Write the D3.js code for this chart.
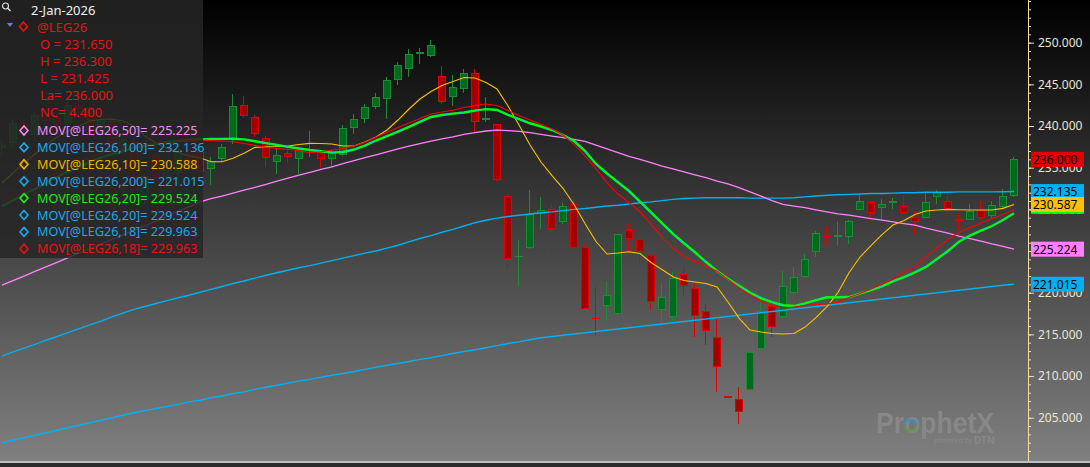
<!DOCTYPE html>
<html>
<head>
<meta charset="utf-8">
<script src="https://cdn.jsdelivr.net/npm/d3@7"></script>
<style>
  body { margin: 0; background: #000; overflow: hidden; }
  svg { display: block; }
  text { font-family: "Noto Sans", "DejaVu Sans", sans-serif; }
</style>
</head>
<body>
<svg id="chart" width="1090" height="467"></svg>
<script>
// daily bars of @LEG26, oldest first
let opens = [237.4,238.0,240.3,239.0,241.3,241.0,240.4,242.3,242.2,239.2,
  240.6,237.6,238.0,231.2,236.5,234.0,234.4,236.6,236.8,234.9,
  236.1,238.5,242.5,241.05,238.5,235.8,236.7,236.1,237.85,236.8,
  236.1,236.6,239.85,240.9,242.4,243.3,245.6,246.9,248.75,248.5,
  246.0,243.6,244.5,246.3,240.8,240.2,231.6,224.3,225.45,229.5,
  230.0,228.6,230.6,225.45,216.9,218.5,217.5,227.5,226.4,224.5,
  218.0,217.1,222.2,220.5,217.8,214.65,207.5,207.2,208.4,213.3,
  218.3,217.1,220.0,222.0,224.9,226.9,226.8,226.7,230.0,230.85,
  230.25,230.8,230.4,229.05,229.05,231.6,231.0,228.75,228.8,229.85,
  229.3,230.3,231.65];
let highs = [238.3,240.8,240.9,241.8,241.9,241.6,243.0,243.1,242.7,241.6,
  241.0,238.9,238.6,234.4,237.0,235.5,237.3,237.2,237.4,236.3,
  237.9,243.8,243.6,241.3,238.8,237.3,237.45,237.5,239.45,237.1,
  237.1,240.1,241.4,242.6,244.0,245.85,247.7,249.3,249.35,250.3,
  247.2,246.1,246.8,246.9,243.5,240.3,231.8,226.3,232.3,231.5,
  230.6,230.8,231.3,225.85,220.65,221.3,227.1,228.2,227.3,224.7,
  221.0,222.5,223.05,221.1,218.7,217.05,207.5,208.65,214.1,219.2,
  218.9,222.6,223.05,224.7,227.4,228.0,228.5,228.7,231.8,231.0,
  231.2,231.4,231.7,229.7,232.0,232.3,231.7,229.6,230.6,231.0,
  231.0,232.4,236.3];
let lows = [236.4,237.5,239.2,238.4,240.2,239.0,240.0,241.4,238.8,238.6,
  237.0,237.0,232.0,230.7,233.6,233.2,233.9,235.0,234.0,232.9,
  235.7,237.9,241.0,238.65,235.1,234.2,235.6,234.2,236.3,235.05,
  235.1,236.4,239.0,240.4,242.0,240.9,244.9,245.9,247.4,248.3,
  242.6,242.4,244.0,239.3,240.5,233.4,222.8,220.8,225.3,227.7,
  224.8,228.3,224.8,218.0,214.9,216.6,217.1,224.9,223.6,218.0,
  215.2,216.6,219.7,214.65,213.7,208.1,207.45,204.3,208.2,213.2,
  214.7,217.0,219.7,221.85,224.25,225.7,225.6,225.8,229.9,229.1,
  228.8,230.0,229.3,226.9,229.0,230.7,229.5,227.5,228.7,228.7,
  229.0,230.1,231.425];
let closes = [237.7,240.3,239.6,241.3,240.7,239.5,242.5,242.1,239.2,240.8,
  237.5,238.4,232.4,233.9,234.0,235.0,236.8,235.5,234.5,235.8,
  237.45,242.4,241.3,239.1,236.25,236.5,236.3,237.1,237.9,236.1,
  236.8,239.7,240.8,242.25,243.45,245.5,247.3,248.6,248.85,249.7,
  243.0,244.65,246.3,240.6,240.95,233.6,224.1,224.3,229.4,229.9,
  227.7,230.4,225.45,218.1,216.85,219.7,227.0,226.5,225.0,219.0,
  219.45,221.7,220.9,217.3,215.5,211.1,207.45,205.7,212.8,217.7,
  215.9,220.7,221.85,224.0,227.1,226.8,226.9,228.5,230.9,229.6,
  230.6,230.9,229.6,228.5,230.85,232.0,230.1,228.7,229.7,229.05,
  230.5,231.6,236.0];

// moving averages, one value per bar
let ma10 = [233.16,234.36,235.56,236.64,237.72,238.68,239.4,240.0,240.6,240.78,
  240.84,240.6,240.0,238.8,237.96,237.3,236.82,236.4,236.2,235.72,
  235.72,236.12,236.72,237.44,237.52,237.54,237.6,237.78,237.92,237.9,
  237.84,237.6,237.6,238.08,238.68,239.52,240.72,242.04,243.24,244.14,
  244.86,245.34,245.82,245.76,245.22,244.44,242.4,240.12,237.72,235.68,
  234.06,232.53,230.58,228.3,226.14,224.64,224.76,224.92,224.7,223.62,
  222.78,221.92,221.46,221.28,221.1,220.68,218.88,216.96,215.52,215.28,
  215.1,215.04,215.1,215.88,217.02,218.32,220.02,222.4,224.28,225.66,
  226.98,228.12,228.66,229.38,229.8,229.92,230.0,229.96,229.92,229.92,
  229.92,230.12,230.588];
let ma18 = [230.88,231.6,232.32,233.04,233.76,234.42,235.08,235.68,236.22,236.7,
  237.06,237.36,237.6,237.78,237.96,238.08,238.2,238.26,238.32,238.26,
  238.2,238.12,237.9,237.68,237.46,237.3,237.18,237.05,236.8,236.92,
  237.12,237.3,237.6,238.05,238.64,239.25,239.82,240.36,240.9,241.44,
  241.68,241.9,242.22,242.45,242.64,242.47,241.86,241.26,240.72,240.2,
  239.64,238.92,237.8,236.42,234.87,233.22,231.84,230.82,229.74,228.24,
  226.68,225.36,224.34,223.73,223.2,222.58,221.6,220.61,219.66,218.94,
  218.47,218.16,218.28,218.46,218.6,218.64,218.88,219.42,219.9,220.44,
  221.04,221.68,222.48,223.12,224.34,225.4,226.4,227.22,227.81,228.36,
  228.88,229.38,229.963];
let ma20 = [230.4,231.06,231.78,232.44,233.16,233.88,234.54,235.08,235.68,236.2,
  236.6,237.0,237.38,237.62,237.84,238.08,238.2,238.32,238.4,238.44,
  238.46,238.48,238.4,238.17,237.94,237.72,237.5,237.31,237.12,236.97,
  236.81,236.88,237.18,237.64,238.26,238.8,239.34,239.9,240.5,241.08,
  241.32,241.49,241.62,241.85,242.03,241.92,241.35,240.84,240.33,239.94,
  239.52,238.92,238.2,237.0,235.44,234.3,233.25,232.2,230.93,229.65,
  228.36,227.06,225.93,224.85,223.68,222.6,221.67,220.83,220.02,219.36,
  218.86,218.5,218.4,218.72,219.12,219.45,219.45,219.48,219.89,220.32,
  220.76,221.36,221.88,222.45,223.1,224.04,225.0,226.13,226.86,227.46,
  228.0,228.72,229.524];
let ma50 = [220.9,221.45,222.0,222.55,223.1,223.65,224.2,224.75,225.3,225.85,
  226.4,226.95,227.5,228.05,228.6,229.15,229.75,230.3,230.9,231.3,
  231.6,231.95,232.3,232.65,233.0,233.4,233.75,234.1,234.45,234.8,
  235.1,235.5,235.85,236.2,236.55,236.9,237.25,237.6,237.9,238.2,
  238.45,238.7,239.0,239.2,239.4,239.5,239.45,239.35,239.2,239.0,
  238.8,238.6,238.4,238.15,237.7,237.25,236.8,236.35,236.0,235.6,
  235.2,234.85,234.5,234.15,233.8,233.4,233.05,232.6,232.1,231.6,
  231.05,230.6,230.4,230.2,229.95,229.7,229.45,229.3,229.1,228.9,
  228.7,228.5,228.3,228.1,227.75,227.45,227.15,226.8,226.5,226.2,
  225.85,225.55,225.225];
let ma100 = [212.4,212.9,213.35,213.8,214.3,214.75,215.2,215.7,216.15,216.6,
  217.1,217.55,218.0,218.35,218.7,219.05,219.4,219.7,220.05,220.4,
  220.75,221.1,221.4,221.75,222.1,222.4,222.7,223.0,223.25,223.55,
  223.85,224.15,224.45,224.75,225.0,225.35,225.7,226.1,226.5,226.85,
  227.25,227.6,228.0,228.4,228.7,228.95,229.15,229.3,229.45,229.6,
  229.7,229.85,230.0,230.1,230.25,230.4,230.5,230.65,230.8,230.9,
  231.05,231.2,231.3,231.35,231.4,231.4,231.4,231.4,231.35,231.35,
  231.35,231.35,231.4,231.5,231.6,231.7,231.75,231.8,231.85,231.9,
  231.9,231.95,232.0,232.0,232.05,232.05,232.05,232.1,232.1,232.1,
  232.1,232.12,232.135];
let ma200 = [202.0,202.3,202.6,202.9,203.2,203.5,203.8,204.1,204.4,204.7,
  205.0,205.3,205.6,205.85,206.1,206.35,206.6,206.9,207.1,207.4,
  207.6,207.9,208.1,208.4,208.65,208.9,209.15,209.4,209.6,209.85,
  210.1,210.3,210.55,210.8,211.05,211.3,211.5,211.75,212.0,212.2,
  212.45,212.7,212.95,213.15,213.4,213.65,213.9,214.1,214.35,214.6,
  214.75,214.9,215.05,215.2,215.35,215.5,215.65,215.8,215.95,216.1,
  216.25,216.4,216.55,216.7,216.85,217.0,217.15,217.3,217.45,217.6,
  217.75,217.9,218.05,218.2,218.35,218.5,218.65,218.8,218.95,219.1,
  219.25,219.4,219.55,219.7,219.85,220.0,220.15,220.3,220.45,220.6,
  220.75,220.9,221.015];

// legend texts
let dateLabel = "2-Jan-2026";
let symbol = "@LEG26";
let quoteLines = ["O = 231.650", "H = 236.300", "L = 231.425", "La= 236.000", "NC= 4.400"];
let studyNames = ["MOV[@LEG26,50]= 225.225", "MOV[@LEG26,100]= 232.136", "MOV[@LEG26,10]= 230.588",
  "MOV[@LEG26,200]= 221.015", "MOV[@LEG26,20]= 229.524", "MOV[@LEG26,20]= 229.524",
  "MOV[@LEG26,18]= 229.963", "MOV[@LEG26,18]= 229.963"];
let studyColors = ["#f48cf4", "#1aa8ea", "#f2b400", "#1aa8ea", "#1ee81e", "#1aa8ea", "#1aa8ea", "#e41414"];

// last-value tags on the price axis
let tagValues = [236.000, 232.135, 229.524, 230.587, 225.224, 221.015];
let tagColors = ["#e00000", "#00b0f0", "#00ff00", "#ffc000", "#ff80ff", "#00b0f0"];

let svg = d3.select("#chart");
let W = 1090, plotBottom = 461, axisX = 1028;

let x = d3.scaleLinear().domain([0, closes.length - 1]).range([2, 1014]);
let y = d3.scaleLinear().domain([200, 255.12]).range([459.4, 0]);

// background gradient
let defs = svg.append("defs");
let grad = defs.append("linearGradient").attr("id", "bg")
  .attr("x1", 0).attr("y1", 0).attr("x2", 0).attr("y2", 1);
grad.append("stop").attr("offset", "0%").attr("stop-color", "#000");
grad.append("stop").attr("offset", "100%").attr("stop-color", "#808080");

svg.append("rect").attr("width", W).attr("height", plotBottom).attr("fill", "url(#bg)");
svg.append("rect").attr("y", plotBottom).attr("width", W).attr("height", 2).attr("fill", "#bdbdbd");
svg.append("rect").attr("y", plotBottom + 2).attr("width", W).attr("height", 4).attr("fill", "#2a2a2a");

// watermark
let wm = svg.append("g");
wm.append("text")
  .attr("x", 876).attr("y", 433)
  .attr("textLength", 118).attr("lengthAdjust", "spacingAndGlyphs")
  .style("font-family", "'Liberation Sans', Arial, sans-serif")
  .style("font-weight", "bold").style("font-size", "29px")
  .attr("fill", "#888")
  .text("ProphetX");
let ringArc = d3.arc().innerRadius(4).outerRadius(7.5);
wm.append("path").attr("transform", translate(910.5, 425.5))
  .attr("d", ringArc({startAngle: -Math.PI / 2, endAngle: Math.PI / 2})).attr("fill", "#2f8fc8").attr("opacity", 0.6);
wm.append("path").attr("transform", translate(910.5, 425.5))
  .attr("d", ringArc({startAngle: Math.PI / 2, endAngle: Math.PI * 1.5})).attr("fill", "#5c9a45").attr("opacity", 0.6);
wm.append("text").attr("x", 934).attr("y", 443)
  .style("font-size", "7px").attr("fill", "#888").text("powered by");
wm.append("text").attr("x", 974).attr("y", 444)
  .style("font-size", "10px").style("font-weight", "bold").attr("fill", "#888").text("DTN");

// candles
let bars = d3.range(closes.length).map(function(i) {
  return {i: i, o: opens[i], h: highs[i], l: lows[i], c: closes[i]};
});
let candles = svg.append("g").attr("shape-rendering", "crispEdges");
let up = function(d) { return d.c >= d.o; };
candles.selectAll(".wick").data(bars).enter().append("line")
  .attr("x1", function(d) { return Math.round(x(d.i)) - 0.5; })
  .attr("x2", function(d) { return Math.round(x(d.i)) - 0.5; })
  .attr("y1", function(d) { return y(d.h); })
  .attr("y2", function(d) { return y(d.l); })
  .attr("stroke", function(d) { return up(d) ? "#1b8c34" : "#e00000"; })
  .attr("stroke-width", 1);
candles.selectAll(".body").data(bars).enter().append("rect")
  .attr("x", function(d) { return Math.round(x(d.i)) - 3.5; })
  .attr("width", 7)
  .attr("y", function(d) { return y(Math.max(d.o, d.c)); })
  .attr("height", function(d) { return Math.max(0.01, Math.abs(y(d.o) - y(d.c))); })
  .attr("fill", function(d) { return up(d) ? "#006a1f" : "#a30000"; })
  .attr("stroke", function(d) { return up(d) ? "#1b8c34" : "#e00000"; })
  .attr("stroke-width", 1);

// moving average lines
let maLine = d3.line().x(function(d, i) { return x(i); }).y(function(d) { return y(d); });
let lines = svg.append("g").attr("fill", "none");
lines.append("path").attr("d", maLine(ma200)).attr("stroke", "#00b0f0").attr("stroke-width", 1.4);
lines.append("path").attr("d", maLine(ma100)).attr("stroke", "#00b0f0").attr("stroke-width", 1.4);
lines.append("path").attr("d", maLine(ma50)).attr("stroke", "#ff80ff").attr("stroke-width", 1.3);
lines.append("path").attr("d", maLine(ma10)).attr("stroke", "#ffc000").attr("stroke-width", 1.1);
lines.append("path").attr("d", maLine(ma20)).attr("stroke", "#00ff00").attr("stroke-width", 2.4);
lines.append("path").attr("d", maLine(ma20)).attr("stroke", "#00c8f0").attr("stroke-width", 1.3)
  .attr("stroke-dasharray", "3,5");
lines.append("path").attr("d", maLine(ma18)).attr("stroke", "#ff0000").attr("stroke-width", 1.1);

// legend panel
let legend = svg.append("g");
legend.append("rect").attr("width", 203).attr("height", 258).attr("fill", "#262626").attr("opacity", 0.85);
legend.append("circle").attr("cx", 5.5).attr("cy", 6).attr("r", 3)
  .attr("fill", "none").attr("stroke", "#e0e0e0").attr("stroke-width", 1.2);
legend.append("line").attr("x1", 7.8).attr("y1", 8.3).attr("x2", 10.5).attr("y2", 11)
  .attr("stroke", "#e0e0e0").attr("stroke-width", 1.4);
legend.append("text").attr("x", 31).attr("y", 15).attr("fill", "#f0f0f0")
  .style("font-size", "13px").text(dateLabel);
legend.append("path").attr("d", "M7,23L13,23L10,27Z").attr("fill", "#7878e8");

function diamond(cx, cy) {
  return "M" + cx + "," + (cy - 4.5) + "L" + (cx + 4) + "," + cy + "L" + cx + "," + (cy + 4.5) + "L" + (cx - 4) + "," + cy + "Z";
}
legend.append("path").attr("d", diamond(23.5, 26.5)).attr("fill", "none")
  .attr("stroke", "#e41414").attr("stroke-width", 1.6);
legend.append("text").attr("x", 37).attr("y", 31.5).attr("fill", "#e41414")
  .style("font-size", "13px").text(symbol);

legend.selectAll(".quote").data(quoteLines).enter().append("text")
  .attr("x", 40).attr("y", function(d, i) { return 48.5 + i * 17.2; })
  .attr("fill", "#e41414").style("font-size", "13px")
  .text(function(d) { return d; });

legend.selectAll(".study-mark").data(studyNames).enter().append("path")
  .attr("d", function(d, i) { return diamond(24, 130.5 + i * 16.9); })
  .attr("fill", "none").attr("stroke-width", 1.6)
  .attr("stroke", function(d, i) { return studyColors[i]; });
legend.selectAll(".study").data(studyNames).enter().append("text")
  .attr("x", 37).attr("y", function(d, i) { return 135 + i * 16.9; })
  .attr("fill", function(d, i) { return studyColors[i]; })
  .style("font-size", "12.6px")
  .text(function(d) { return d; });

// price axis
let axisG = svg.append("g").attr("transform", translate(axisX, 0));
axisG.append("g")
  .call(d3.axisRight(y).tickValues(d3.range(201, 256)).tickSize(3).tickFormat(""));
axisG.append("g")
  .call(d3.axisRight(y).tickValues(d3.range(205, 251, 5)).tickSize(6).tickPadding(4).tickFormat(d3.format(".3f")));
axisG.selectAll(".domain").remove();
axisG.selectAll("line").attr("stroke", "#f3dfa6");
axisG.selectAll("text").attr("fill", "#ebe6d4")
  .style("font-family", "'Noto Sans', sans-serif").style("font-size", "12px");
svg.append("line").attr("x1", axisX + 0.5).attr("x2", axisX + 0.5).attr("y1", 0).attr("y2", plotBottom)
  .attr("stroke", "#f3dfa6").attr("stroke-width", 1);

// last-value tags; the green one sits stacked just above its value, under the gold tag
let tags = svg.append("g");
tagValues.forEach(function(v, i) {
  let cy = y(v) - (i === 2 ? 7 : 0);
  tags.append("rect").attr("x", 1031).attr("y", cy - 7.5).attr("width", 53).attr("height", 15)
    .attr("fill", tagColors[i]);
  tags.append("text").attr("x", 1033).attr("y", cy + 4.5)
    .attr("fill", "#000").style("font-size", "12px")
    .text(d3.format(".3f")(v));
});

function translate(tx, ty) {
  return "translate(" + tx + "," + ty + ")";
}
</script>
</body>
</html>
